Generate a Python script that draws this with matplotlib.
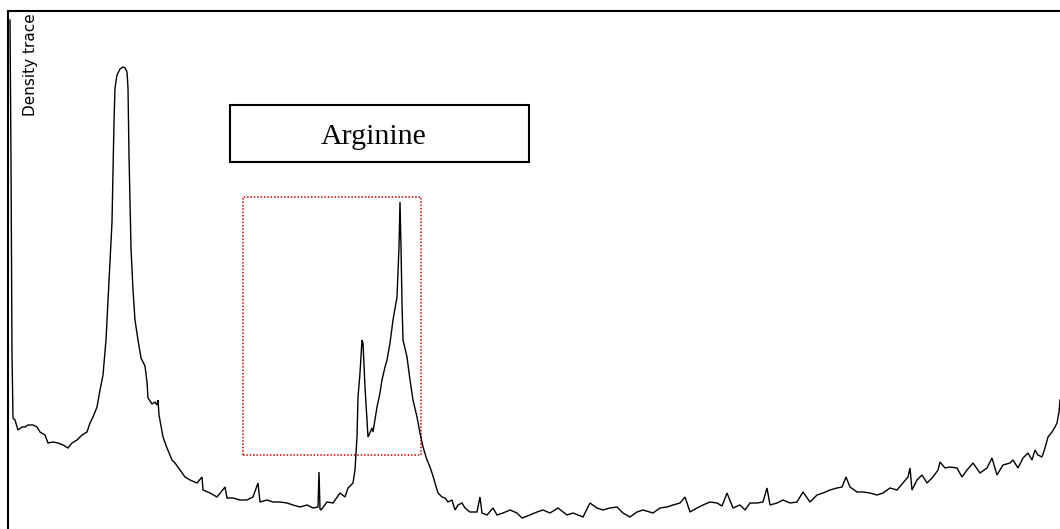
import matplotlib
matplotlib.use("Agg")
import matplotlib.pyplot as plt
from matplotlib.patches import Rectangle

# Trace positions (horizontal, pixel-like units) and density values
trace_x = [10, 11, 12, 13, 15, 18, 22, 25, 28, 33, 37, 40, 45, 48, 53, 58, 63, 68, 72, 77,
           82, 87, 90, 93, 97, 100, 103, 106, 108, 110, 112, 113, 114, 115, 117, 120, 123, 125,
           127, 128, 129, 131, 133, 135, 138, 141, 145, 147, 148, 152, 155, 157, 158, 159, 163,
           167, 172, 175, 180, 185, 190, 197, 202, 203, 210, 217, 225, 227, 233, 240, 247, 253,
           258, 260, 267, 273, 280, 287, 293, 300, 307, 313, 318, 319, 320, 321, 327, 333, 340,
           345, 348, 353, 355, 357, 358, 360, 362, 363, 365, 367, 368, 372, 373, 377, 380, 382,
           385, 387, 390, 393, 397, 398, 399, 400, 401, 402, 403, 407, 410, 413, 417, 420, 423,
           427, 430, 433, 435, 438, 442, 445, 448, 452, 455, 458, 462, 465, 470, 477, 480, 482,
           487, 493, 497, 503, 510, 517, 522, 530, 537, 543, 550, 558, 567, 573, 583, 590, 597,
           603, 610, 617, 623, 630, 637, 643, 653, 660, 667, 673, 680, 685, 690, 697, 703, 710,
           717, 722, 727, 733, 740, 745, 750, 757, 763, 767, 770, 777, 783, 790, 797, 803, 810,
           817, 823, 830, 837, 842, 846, 850, 857, 863, 870, 877, 883, 890, 897, 903, 908, 910,
           912, 917, 922, 927, 933, 938, 940, 945, 950, 957, 962, 967, 973, 980, 987, 992, 997,
           1003, 1010, 1013, 1018, 1023, 1028, 1032, 1035, 1038, 1042, 1045, 1048, 1052, 1055,
           1057, 1059, 1060]
trace_density = [509, 369, 174, 111, 109, 99, 102, 102, 104, 104, 102, 97, 94, 86, 87, 86, 84, 81, 86, 89,
                 94, 97, 106, 112, 122, 139, 154, 189, 229, 267, 307, 357, 407, 441, 454, 460, 462, 461,
                 457, 441, 374, 281, 239, 209, 189, 171, 163, 147, 131, 125, 127, 124, 129, 114, 92,
                 81, 69, 66, 59, 52, 49, 46, 52, 39, 36, 32, 42, 31, 31, 29, 29, 32,
                 46, 27, 29, 27, 27, 26, 24, 22, 24, 21, 22, 57, 20, 19, 27, 26, 36,
                 32, 41, 46, 59, 92, 132, 156, 189, 186, 142, 109, 92, 101, 97, 122, 136, 149,
                 162, 169, 186, 209, 232, 256, 282, 327, 282, 226, 189, 172, 149, 129, 112, 96, 82,
                 69, 62, 53, 46, 36, 32, 31, 27, 29, 19, 24, 26, 21, 17, 17, 32, 16,
                 14, 21, 14, 16, 19, 16, 11, 14, 17, 19, 16, 21, 14, 16, 12, 26, 21,
                 19, 21, 22, 16, 12, 17, 19, 16, 21, 22, 24, 26, 32, 17, 21, 24, 27,
                 26, 23, 36, 21, 24, 19, 26, 26, 27, 41, 24, 26, 29, 26, 27, 37, 27,
                 34, 36, 39, 41, 42, 52, 42, 37, 37, 36, 34, 36, 41, 39, 46, 52, 61,
                 39, 49, 54, 46, 52, 59, 67, 61, 62, 61, 52, 59, 66, 56, 61, 71, 54,
                 64, 66, 69, 61, 71, 76, 69, 79, 74, 72, 81, 92, 97, 102,
                 106, 117, 129]

# Highlight region (dotted red box) and label box
region_x = [243, 421]
region_density = [74, 332]
label_text = "Arginine"
label_box_x = [230, 529]
label_box_density = [367, 424]
axis_label = "Density trace"

W, H = 1060, 529
fig = plt.figure(figsize=(W / 100, H / 100), dpi=100)
ax = fig.add_axes([8 / W, 0, (W - 8) / W, (H - 11) / H])
ax.set_xlim(8, 1060)
ax.set_ylim(0, 518)
for side in ("right", "bottom"):
    ax.spines[side].set_visible(False)
for side in ("left", "top"):
    ax.spines[side].set_linewidth(1.5)
    ax.spines[side].set_color("black")
ax.set_xticks([])
ax.set_yticks([])

ax.plot(trace_x, trace_density, color="black", lw=1.0, solid_joinstyle="miter")

ax.add_patch(Rectangle((region_x[0], region_density[0]),
                       region_x[1] - region_x[0], region_density[1] - region_density[0],
                       fill=False, edgecolor="#cc0000", lw=1.1, linestyle=(0, (1, 1.2))))

ax.add_patch(Rectangle((label_box_x[0], label_box_density[0]),
                       label_box_x[1] - label_box_x[0], label_box_density[1] - label_box_density[0],
                       fill=False, edgecolor="black", lw=1.5, zorder=3))
ax.text(374, 385.5, label_text, ha="center", va="baseline",
        fontsize=21.5, family="Liberation Serif", color="black")

ax.text(30, 464, axis_label, rotation=90, ha="center", va="center",
        fontsize=11, family="DejaVu Sans", color="black")

fig.savefig("out.png", dpi=100)
